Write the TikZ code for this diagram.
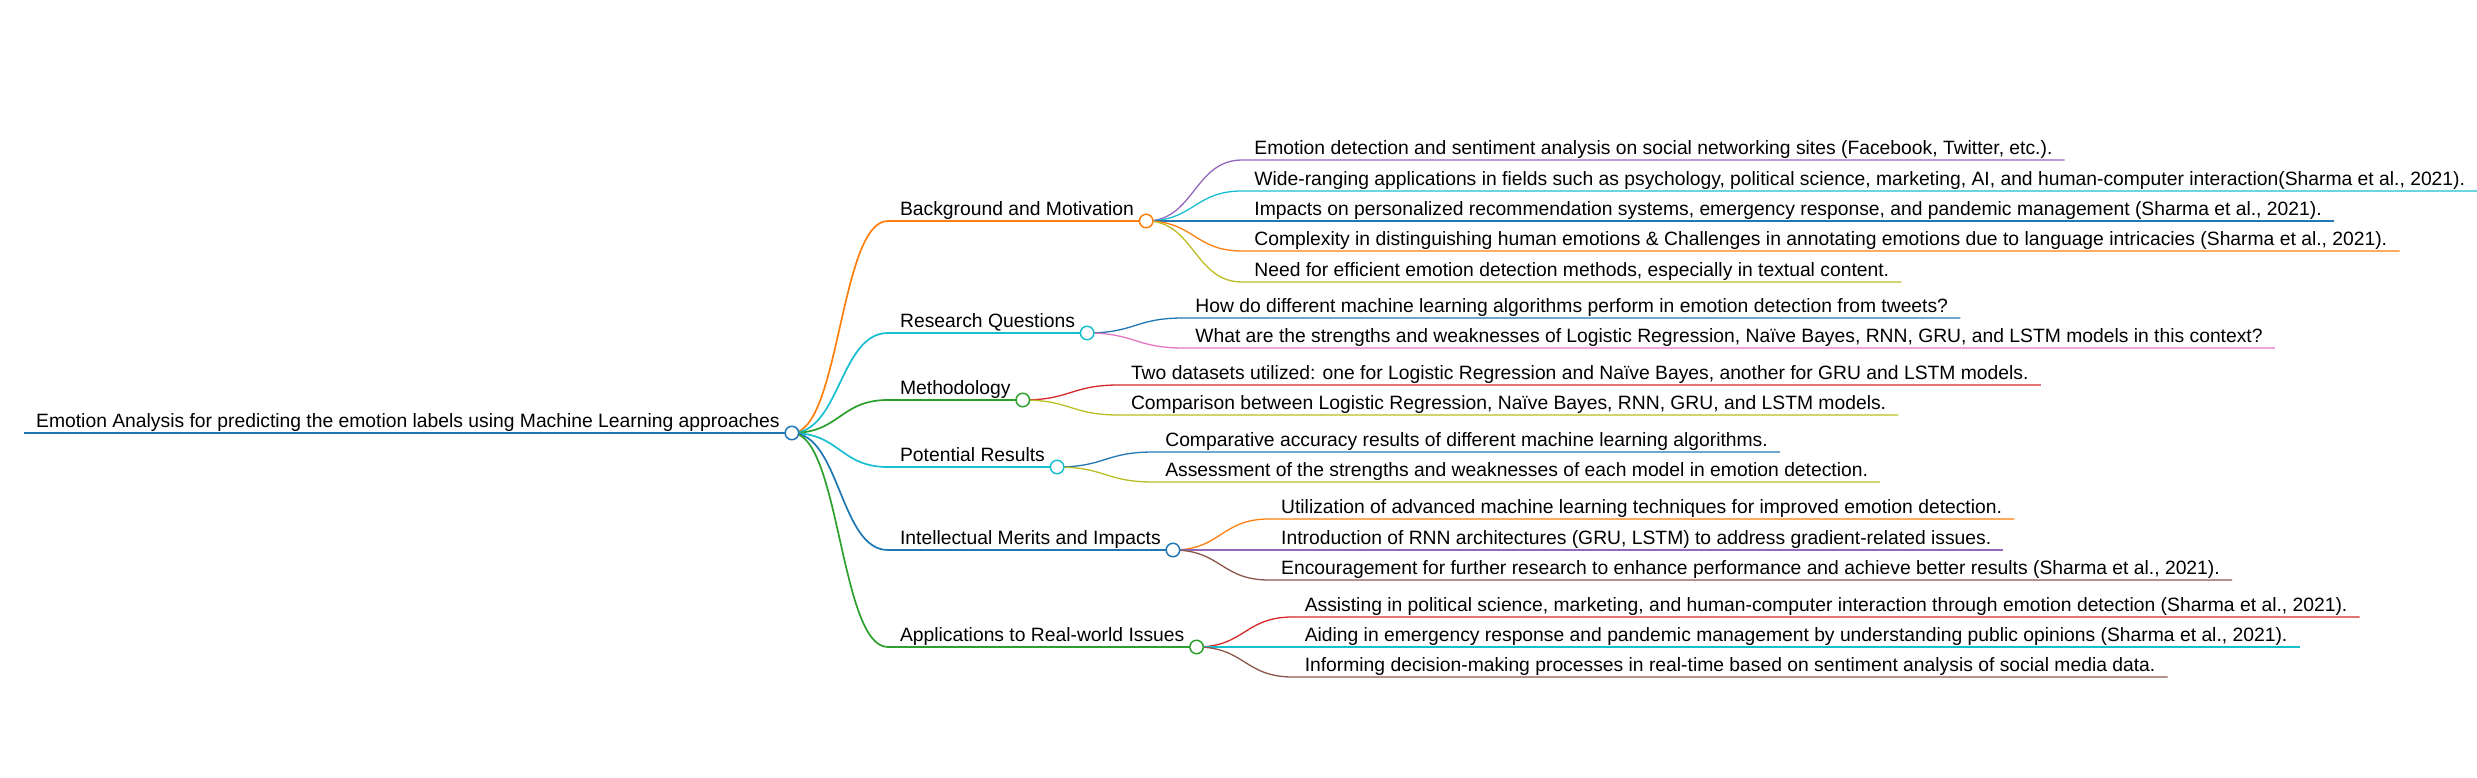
\documentclass[tikz,border=0pt]{standalone}
\usepackage{fontspec}
\setmainfont{Liberation Sans}
\usetikzlibrary{calc}

\definecolor{mmblue}{HTML}{1F77B4}
\definecolor{mmorange}{HTML}{FF7F0E}
\definecolor{mmgreen}{HTML}{2CA02C}
\definecolor{mmred}{HTML}{D62728}
\definecolor{mmpurple}{HTML}{9467BD}
\definecolor{mmbrown}{HTML}{8C564B}
\definecolor{mmpink}{HTML}{E377C2}
\definecolor{mmolive}{HTML}{BCBD22}
\definecolor{mmcyan}{HTML}{17BECF}

\begin{document}
\begin{tikzpicture}[
    x=1pt, y=-1pt,
    topic/.style={anchor=south west, inner xsep=12pt, inner ysep=5.5pt, text depth=0pt, font=\fontsize{19.3}{23}\selectfont},
    root line/.style={line width=2.4pt},
    main line/.style={line width=1.7pt},
    leaf line/.style={line width=1.3pt},
    link/.style={to path={let \p1=(\tikztostart), \p2=(\tikztotarget) in
        .. controls ({(\x1+\x2)/2},\y1) and ({(\x1+\x2)/2},\y2) .. (\tikztotarget)}},
    knob/.style={circle, draw=#1, fill=white, line width=1.5pt, minimum size=13.5pt, inner sep=0pt}
]
\useasboundingbox (0,0) rectangle (2477,778);

% Root
\node [topic] (root) at (24,433) {Emotion Analysis for predicting the emotion labels using Machine Learning approaches};

% Main branches
\node [topic] (bg) at ([shift={(96,-212)}]root.south east) {Background and Motivation};
\node [topic] (rq) at ([shift={(96,-100)}]root.south east) {Research Questions};
\node [topic] (meth) at ([shift={(96,-33)}]root.south east) {Methodology};
\node [topic] (res) at ([shift={(96,34)}]root.south east) {Potential Results};
\node [topic] (merit) at ([shift={(96,117)}]root.south east) {Intellectual Merits and Impacts};
\node [topic] (app) at ([shift={(96,214)}]root.south east) {Applications to Real-world Issues};

% Leaves
\node [topic] (bg1) at ([shift={(96,-61)}]bg.south east) {Emotion detection and sentiment analysis on social networking sites (Facebook, Twitter, etc.).};
\node [topic] (bg2) at ([shift={(96,-30)}]bg.south east) {Wide-ranging applications in fields such as psychology, political science, marketing, AI, and human-computer interaction(Sharma et al., 2021).};
\node [topic] (bg3) at ([shift={(96,0)}]bg.south east) {Impacts on personalized recommendation systems, emergency response, and pandemic management (Sharma et al., 2021).};
\node [topic] (bg4) at ([shift={(96,30)}]bg.south east) {Complexity in distinguishing human emotions \& Challenges in annotating emotions due to language intricacies (Sharma et al., 2021).};
\node [topic] (bg5) at ([shift={(96,61)}]bg.south east) {Need for efficient emotion detection methods, especially in textual content.};
\node [topic] (rq1) at ([shift={(96,-15)}]rq.south east) {How do different machine learning algorithms perform in emotion detection from tweets?};
\node [topic] (rq2) at ([shift={(96,15)}]rq.south east) {What are the strengths and weaknesses of Logistic Regression, Naïve Bayes, RNN, GRU, and LSTM models in this context?};
\node [topic] (meth1) at ([shift={(96,-15)}]meth.south east) {Two datasets utilized: one for Logistic Regression and Naïve Bayes, another for GRU and LSTM models.};
\node [topic] (meth2) at ([shift={(96,15)}]meth.south east) {Comparison between Logistic Regression, Naïve Bayes, RNN, GRU, and LSTM models.};
\node [topic] (res1) at ([shift={(96,-15)}]res.south east) {Comparative accuracy results of different machine learning algorithms.};
\node [topic] (res2) at ([shift={(96,15)}]res.south east) {Assessment of the strengths and weaknesses of each model in emotion detection.};
\node [topic] (merit1) at ([shift={(96,-31)}]merit.south east) {Utilization of advanced machine learning techniques for improved emotion detection.};
\node [topic] (merit2) at ([shift={(96,0)}]merit.south east) {Introduction of RNN architectures (GRU, LSTM) to address gradient-related issues.};
\node [topic] (merit3) at ([shift={(96,30)}]merit.south east) {Encouragement for further research to enhance performance and achieve better results (Sharma et al., 2021).};
\node [topic] (app1) at ([shift={(96,-30)}]app.south east) {Assisting in political science, marketing, and human-computer interaction through emotion detection (Sharma et al., 2021).};
\node [topic] (app2) at ([shift={(96,0)}]app.south east) {Aiding in emergency response and pandemic management by understanding public opinions (Sharma et al., 2021).};
\node [topic] (app3) at ([shift={(96,30)}]app.south east) {Informing decision-making processes in real-time based on sentiment analysis of social media data.};

% Branch lines
\draw [root line, mmblue] (root.south west) -- (root.south east);
\draw [main line, mmorange] (root.south east) to[link] (bg.south west) -- (bg.south east);
\draw [main line, mmcyan] (root.south east) to[link] (rq.south west) -- (rq.south east);
\draw [main line, mmgreen] (root.south east) to[link] (meth.south west) -- (meth.south east);
\draw [main line, mmcyan] (root.south east) to[link] (res.south west) -- (res.south east);
\draw [main line, mmblue] (root.south east) to[link] (merit.south west) -- (merit.south east);
\draw [main line, mmgreen] (root.south east) to[link] (app.south west) -- (app.south east);

\draw [leaf line, mmpurple] (bg.south east) to[link] (bg1.south west) -- (bg1.south east);
\draw [leaf line, mmcyan] (bg.south east) to[link] (bg2.south west) -- (bg2.south east);
\draw [leaf line, mmblue] (bg.south east) to[link] (bg3.south west) -- (bg3.south east);
\draw [leaf line, mmorange] (bg.south east) to[link] (bg4.south west) -- (bg4.south east);
\draw [leaf line, mmolive] (bg.south east) to[link] (bg5.south west) -- (bg5.south east);
\draw [leaf line, mmblue] (rq.south east) to[link] (rq1.south west) -- (rq1.south east);
\draw [leaf line, mmpink] (rq.south east) to[link] (rq2.south west) -- (rq2.south east);
\draw [leaf line, mmred] (meth.south east) to[link] (meth1.south west) -- (meth1.south east);
\draw [leaf line, mmolive] (meth.south east) to[link] (meth2.south west) -- (meth2.south east);
\draw [leaf line, mmblue] (res.south east) to[link] (res1.south west) -- (res1.south east);
\draw [leaf line, mmolive] (res.south east) to[link] (res2.south west) -- (res2.south east);
\draw [leaf line, mmorange] (merit.south east) to[link] (merit1.south west) -- (merit1.south east);
\draw [leaf line, mmpurple] (merit.south east) to[link] (merit2.south west) -- (merit2.south east);
\draw [leaf line, mmbrown] (merit.south east) to[link] (merit3.south west) -- (merit3.south east);
\draw [leaf line, mmred] (app.south east) to[link] (app1.south west) -- (app1.south east);
\draw [leaf line, mmcyan] (app.south east) to[link] (app2.south west) -- (app2.south east);
\draw [leaf line, mmbrown] (app.south east) to[link] (app3.south west) -- (app3.south east);

% Knobs on top
\node [knob=mmblue] (rootknob) at (root.south east) {};
\node [knob=mmorange] (bgknob) at (bg.south east) {};
\node [knob=mmcyan] (rqknob) at (rq.south east) {};
\node [knob=mmgreen] (methknob) at (meth.south east) {};
\node [knob=mmcyan] (resknob) at (res.south east) {};
\node [knob=mmblue] (meritknob) at (merit.south east) {};
\node [knob=mmgreen] (appknob) at (app.south east) {};

\end{tikzpicture}
\end{document}
